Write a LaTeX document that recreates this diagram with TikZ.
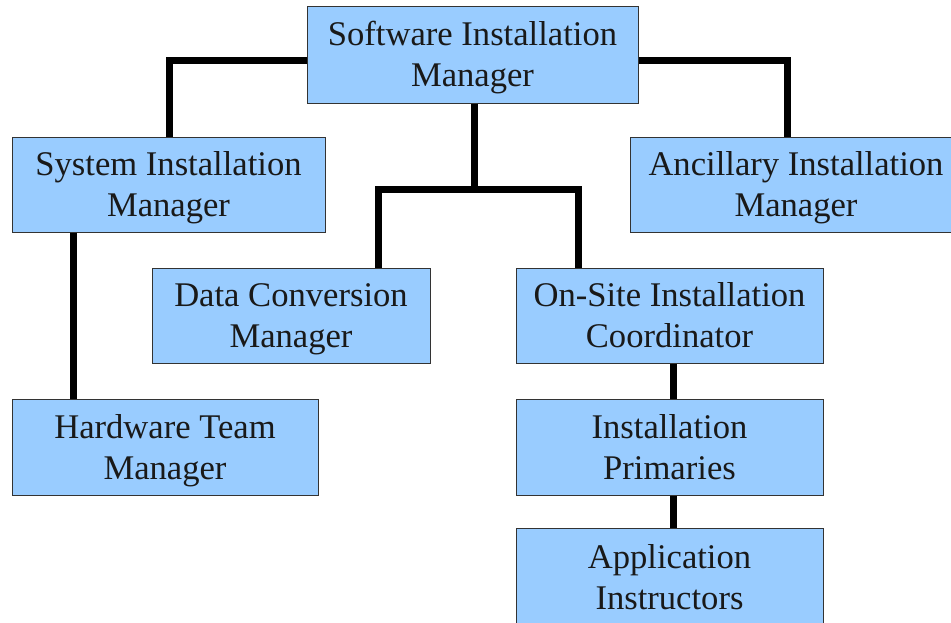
\documentclass[tikz,border=0pt]{standalone}
\usepackage{fontspec}
\setmainfont{Liberation Serif}
\begin{document}
\begin{tikzpicture}[x=1pt,y=-1pt,
  box/.style={draw=black!80, line width=1pt, fill=boxblue, align=center,
    inner sep=0pt, font=\fontsize{34.6}{41}\selectfont, text=black!90,
    text height=64pt, text depth=0pt},
  link/.style={line width=7pt, black, line join=miter, line cap=butt}]
\definecolor{boxblue}{HTML}{99CCFF}
\useasboundingbox (0,0) rectangle (951,622);
\clip (0,0) rectangle (951,622);
\node[box, minimum width=331pt, minimum height=97pt] (soft) at (472.5,54.5) {Software Installation\\Manager};
\node[box, minimum width=313pt, minimum height=95pt] (sys) at (168.5,184.5) {System Installation\\Manager};
\node[box, minimum width=332pt, minimum height=95pt] (anc) at (796,184.5) {Ancillary Installation\\Manager};
\node[box, minimum width=278pt, minimum height=95pt] (data) at (291,315.5) {Data Conversion\\Manager};
\node[box, minimum width=307pt, minimum height=95pt] (onsite) at (669.5,315.5) {On-Site Installation\\Coordinator};
\node[box, minimum width=306pt, minimum height=96pt] (hw) at (165,447) {Hardware Team\\Manager};
\node[box, minimum width=307pt, minimum height=96pt] (prim) at (669.5,447) {Installation\\Primaries};
\node[box, minimum width=307pt, minimum height=99pt] (inst) at (669.5,577.5) {Application\\Instructors};
\coordinate (lx) at (169.5,60);
\coordinate (rx) at (787,60);
\coordinate (bus) at (474,189);
\coordinate (jl) at (378,189);
\coordinate (jr) at (578,189);
\coordinate (hx) at (73,0);
\coordinate (cx) at (673,0);
\draw[link] (lx -| soft.west) -- (lx) -- (lx |- sys.north);
\draw[link] (rx -| soft.east) -- (rx) -- (rx |- anc.north);
\draw[link] (bus |- soft.south) -- (bus);
\draw[link] (jl |- data.north) -- (jl) -- (jr) -- (jr |- onsite.north);
\draw[link] (hx |- sys.south) -- (hx |- hw.north);
\draw[link] (cx |- onsite.south) -- (cx |- prim.north);
\draw[link] (cx |- prim.south) -- (cx |- inst.north);
\end{tikzpicture}
\end{document}
